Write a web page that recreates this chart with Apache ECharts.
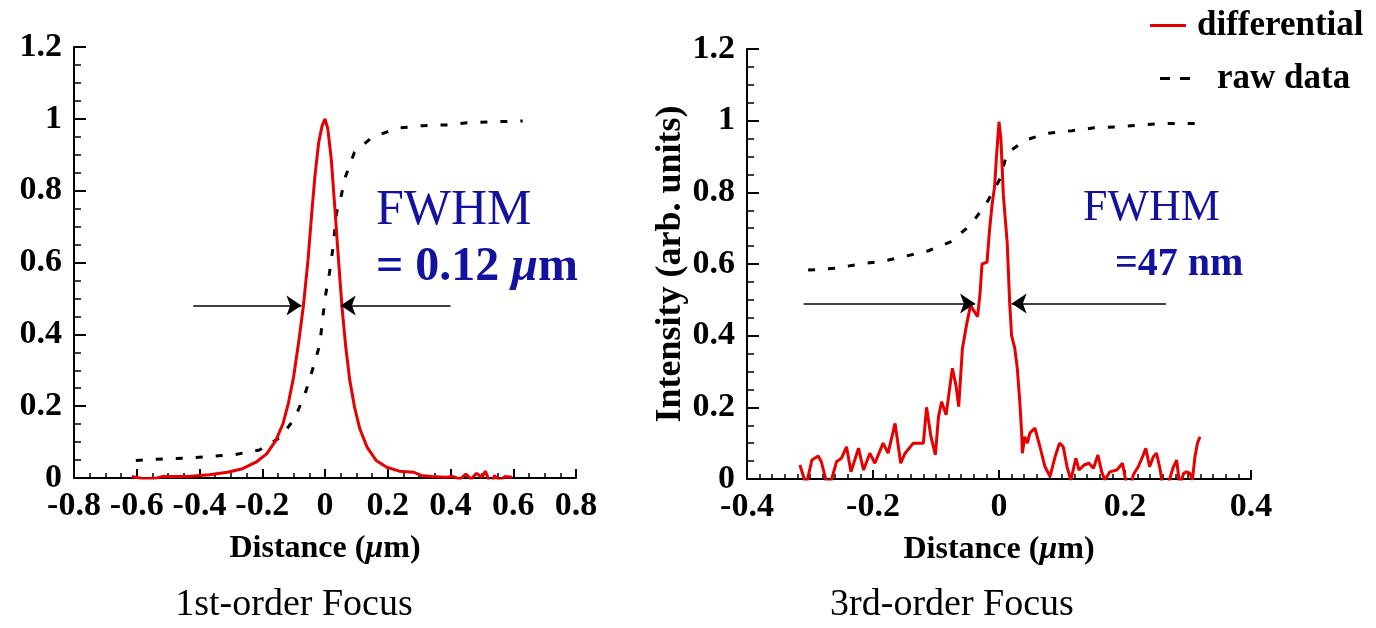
<!DOCTYPE html>
<html>
<head>
<meta charset="utf-8">
<title>1st / 3rd order focus</title>
<script src="https://cdn.jsdelivr.net/npm/echarts@6/dist/echarts.min.js"></script>
<style>
  html, body { margin: 0; padding: 0; background: #fff; }
  #chart { width: 1376px; height: 628px; }
</style>
</head>
<body>
<div id="chart"></div>
<script>
// 1st-order focus: differential profile (red)
const diff1X = [-0.616, -0.574, -0.54, -0.517, -0.437, -0.369, -0.311, -0.266, -0.22, -0.186, -0.157, -0.134,
  -0.117, -0.1, -0.083, -0.069, -0.054, -0.043, -0.032, -0.02, -0.009, 0, 0.009, 0.02, 0.031, 0.043, 0.054,
  0.066, 0.079, 0.094, 0.111, 0.134, 0.163, 0.197, 0.237, 0.283, 0.306, 0.34, 0.386, 0.409, 0.431, 0.449,
  0.466, 0.483, 0.5, 0.511, 0.523, 0.529, 0.54, 0.557, 0.574, 0.597]
const diff1Y = [0.004, -0.003, -0.001, 0.004, 0.004, 0.009, 0.016, 0.025, 0.044, 0.067, 0.104, 0.151,
  0.207, 0.282, 0.384, 0.478, 0.608, 0.73, 0.841, 0.935, 0.981, 1.0, 0.972, 0.888, 0.757, 0.608, 0.478,
  0.366, 0.272, 0.198, 0.137, 0.086, 0.049, 0.03, 0.019, 0.016, 0.007, 0.004, 0.002, 0.004, -0.003, 0.011,
  -0.003, 0.013, 0.002, 0.019, -0.007, -0.021, 0.007, -0.007, 0.004, 0.002]

// 1st-order focus: raw edge scan (black dashed)
const raw1X = [-0.603, -0.517, -0.443, -0.363, -0.289, -0.209, -0.14, -0.094, -0.06, -0.037, -0.017, 0,
  0.014, 0.026, 0.037, 0.049, 0.066, 0.094, 0.151, 0.231, 0.311, 0.386, 0.466, 0.54, 0.63]
const raw1Y = [0.049, 0.053, 0.055, 0.06, 0.065, 0.078, 0.114, 0.17, 0.244, 0.31, 0.37, 0.5,
  0.57, 0.645, 0.739, 0.776, 0.841, 0.907, 0.949, 0.974, 0.981, 0.983, 0.99, 0.992, 0.994]

// 3rd-order focus: differential profile (red)
const diff3X = [-0.316, -0.306, -0.297, -0.287, -0.282, -0.274, -0.266, -0.258, -0.25, -0.242, -0.235,
  -0.223, -0.215, -0.205, -0.197, -0.184, -0.176, -0.165, -0.156, -0.149, -0.136, -0.12, -0.115, -0.108,
  -0.101, -0.096, -0.091, -0.084, -0.074, -0.068, -0.064, -0.058, -0.051, -0.045, -0.041, -0.034, -0.03,
  -0.027, -0.019, -0.015, -0.011, -0.007, -0.004, 0, 0.003, 0.005, 0.007, 0.01, 0.013, 0.017, 0.02, 0.025,
  0.029, 0.033, 0.036, 0.037, 0.041, 0.045, 0.049, 0.057, 0.065, 0.073, 0.081, 0.089, 0.096, 0.102, 0.108,
  0.114, 0.122, 0.127, 0.135, 0.143, 0.15, 0.157, 0.163, 0.168, 0.176, 0.187, 0.196, 0.201, 0.207, 0.213,
  0.221, 0.229, 0.233, 0.239, 0.245, 0.25, 0.256, 0.262, 0.269, 0.276, 0.282, 0.287, 0.293, 0.298, 0.303,
  0.307, 0.311, 0.315, 0.319]
const diff3Y = [0.039, -0.017, 0.053, 0.064, 0.048, -0.007, -0.003, 0.048, 0.058, 0.09, 0.02,
  0.086, 0.025, 0.072, 0.044, 0.1, 0.072, 0.155, 0.044, 0.072, 0.1, 0.1, 0.2, 0.118,
  0.067, 0.174, 0.216, 0.179, 0.309, 0.258, 0.202, 0.365, 0.435, 0.486, 0.472, 0.453, 0.519,
  0.6, 0.605, 0.695, 0.765, 0.816, 0.9, 0.997, 0.95, 0.87, 0.79, 0.79, 0.66, 0.49, 0.4, 0.365,
  0.31, 0.216, 0.128, 0.072, 0.118, 0.1, 0.128, 0.142, 0.09, 0.034, 0.007, 0.062, 0.1, 0.09, 0.034,
  -0.003, 0.058, 0.025, 0.039, 0.044, 0.03, 0.067, 0.02, -0.003, 0.02, 0.025, 0.044, -0.003, -0.054, 0.011,
  0.034, 0.067, 0.086, 0.034, 0.062, 0.072, 0.025, -0.049, -0.012, 0.03, 0.053, -0.021, 0.016, 0.02, 0.016,
  -0.003, 0.062, 0.1, 0.118]

// 3rd-order focus: raw edge scan (black dashed)
const raw3X = [-0.303, -0.259, -0.221, -0.186, -0.148, -0.112, -0.077, -0.045, -0.02, 0.002, 0.0125,
  0.042, 0.078, 0.116, 0.151, 0.189, 0.224, 0.263, 0.314]
const raw3Y = [0.583, 0.588, 0.6, 0.607, 0.622, 0.637, 0.662, 0.709, 0.769, 0.839, 0.909,
  0.946, 0.965, 0.972, 0.98, 0.983, 0.988, 0.992, 0.992]

// FWHM arrows: [start x, end x] at height y
const arrows1 = [[-0.42, -0.075], [0.4, 0.05]]
const arrowY1 = 0.48
const arrows3 = [[-0.31, -0.038], [0.265, 0.02]]
const arrowY3 = 0.49

const RED = '#e60000'
const BLUE = '#12129e'
const FONT = 'Liberation Serif'

const zip = (xs, ys) => xs.map((x, i) => [x, ys[i]])

function arrowMarks(list, y) {
  return list.map(a => [{coord: [a[0], y]}, {coord: [a[1], y]}])
}

const nameRich = {
  r: {fontFamily: FONT, fontWeight: 'bold', fontSize: 32, color: '#000'},
  i: {fontFamily: FONT, fontWeight: 'bold', fontStyle: 'italic', fontSize: 32, color: '#000'}
}

function xAxis(idx, min, max, minorSplit) {
  return {
    type: 'value', gridIndex: idx, min: min, max: max, interval: 0.2,
    name: '{r|Distance (}{i|μ}{r|m)}', nameLocation: 'middle', nameGap: 55,
    nameTextStyle: {rich: nameRich},
    axisLine: {onZero: false, lineStyle: {color: '#000', width: 2}},
    axisTick: {inside: true, length: 9, lineStyle: {color: '#000', width: 2}},
    minorTick: {show: true, splitNumber: minorSplit, length: 5, lineStyle: {color: '#000', width: 1.5}},
    splitLine: {show: false},
    axisLabel: {margin: 11, fontFamily: FONT, fontWeight: 'bold', fontSize: 34, color: '#000'}
  }
}

function yAxis(idx, name) {
  return {
    type: 'value', gridIndex: idx, min: 0, max: 1.2, interval: 0.2,
    name: name, nameLocation: 'middle', nameGap: 58,
    nameTextStyle: {fontFamily: FONT, fontWeight: 'bold', fontSize: 36, color: '#000'},
    axisLine: {onZero: false, lineStyle: {color: '#000', width: 2}},
    axisTick: {inside: true, length: 12, lineStyle: {color: '#000', width: 2}},
    minorTick: {show: true, splitNumber: 4, length: 7, lineStyle: {color: '#000', width: 1.5}},
    splitLine: {show: false},
    axisLabel: {margin: 12, fontFamily: FONT, fontWeight: 'bold', fontSize: 34, color: '#000'}
  }
}

function diffSeries(idx, data, arrows, y) {
  return {
    name: 'differential', type: 'line', xAxisIndex: idx, yAxisIndex: idx,
    data: data, symbol: 'none', z: 3,
    lineStyle: {color: RED, width: 3}, itemStyle: {color: RED},
    markLine: {
      silent: true, symbol: ['none', 'arrow'], symbolSize: 15,
      label: {show: false},
      lineStyle: {color: '#000', width: 1.5, type: 'solid'},
      data: arrowMarks(arrows, y)
    }
  }
}

function rawSeries(idx, data) {
  return {
    name: 'raw data', type: 'line', xAxisIndex: idx, yAxisIndex: idx,
    data: data, symbol: 'none', z: 2,
    lineStyle: {color: '#000', width: 3, type: [7, 13]}, itemStyle: {color: '#000'}
  }
}

const legendText = {fontFamily: FONT, fontWeight: 'bold', fontSize: 35, color: '#000'}

const chart = echarts.init(document.getElementById('chart'))
chart.setOption({
  backgroundColor: '#fff',
  animation: false,
  grid: [
    {left: 74, top: 47, width: 502, height: 431},
    {left: 747, top: 49, width: 504, height: 430}
  ],
  xAxis: [xAxis(0, -0.8, 0.8, 4), xAxis(1, -0.4, 0.4, 10)],
  yAxis: [yAxis(0, ''), yAxis(1, 'Intensity (arb. units)')],
  legend: [
    {data: [{name: 'differential', icon: 'path://M0,0H36V3H0Z'}], left: 1150, top: 8,
      itemWidth: 36, itemHeight: 3, padding: 0, textStyle: Object.assign({padding: [0, 0, 0, 6]}, legendText)},
    {data: [{name: 'raw data', icon: 'path://M0,0H10V3H0ZM20,0H30V3H20Z'}], left: 1160, top: 61,
      itemWidth: 30, itemHeight: 3, padding: 0, textStyle: Object.assign({padding: [0, 0, 0, 22]}, legendText)}
  ],
  graphic: [
    {type: 'text', x: 376, y: 186, style: {text: 'FWHM', fill: BLUE, fontFamily: FONT, fontSize: 50}},
    {type: 'text', x: 376, y: 244, style: {
      text: '{b|= 0.12 }{i|μ}{b|m}',
      rich: {
        b: {fill: BLUE, fontFamily: FONT, fontWeight: 'bold', fontSize: 48},
        i: {fill: BLUE, fontFamily: FONT, fontWeight: 'bold', fontStyle: 'italic', fontSize: 48}
      }
    }},
    {type: 'text', x: 1083, y: 186, style: {text: 'FWHM', fill: BLUE, fontFamily: FONT, fontSize: 44}},
    {type: 'text', x: 1115, y: 245, style: {text: '=47 nm', fill: BLUE, fontFamily: FONT, fontWeight: 'bold', fontSize: 40}},
    {type: 'text', x: 294, y: 605, style: {text: '1st-order Focus', align: 'center', verticalAlign: 'middle',
      fill: '#000', fontFamily: FONT, fontSize: 38}},
    {type: 'text', x: 952, y: 605, style: {text: '3rd-order Focus', align: 'center', verticalAlign: 'middle',
      fill: '#000', fontFamily: FONT, fontSize: 38}}
  ],
  series: [
    rawSeries(0, zip(raw1X, raw1Y)),
    diffSeries(0, zip(diff1X, diff1Y), arrows1, arrowY1),
    rawSeries(1, zip(raw3X, raw3Y)),
    diffSeries(1, zip(diff3X, diff3Y), arrows3, arrowY3)
  ]
})
</script>
</body>
</html>
